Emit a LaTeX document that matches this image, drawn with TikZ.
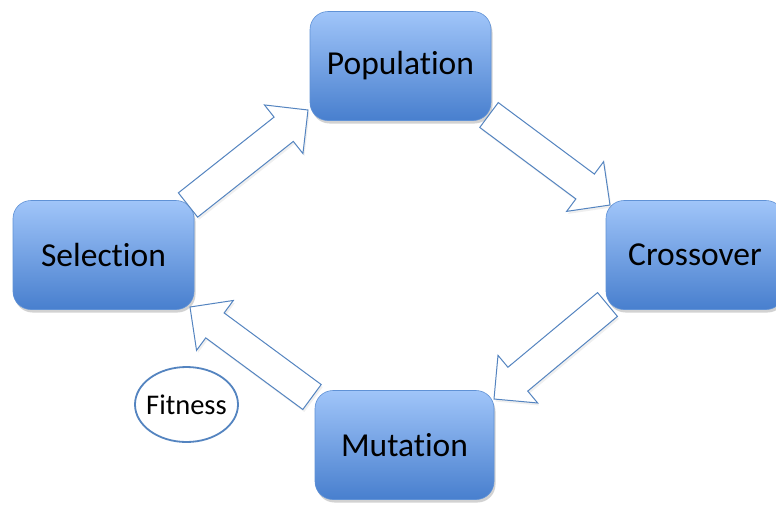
\documentclass[tikz,border=0pt]{standalone}
\usepackage{fontspec}
\setmainfont[Ligatures=NoCommon]{Carlito}
\usetikzlibrary{calc,shadows,shapes.geometric}
\definecolor{boxtop}{RGB}{160,197,249}
\definecolor{boxbot}{RGB}{72,127,206}
\definecolor{boxline}{RGB}{96,146,214}
\definecolor{arrline}{RGB}{84,132,192}
\newcommand\blkarrow[2]{%
  \coordinate (#1-#2-base) at ($(#2)!31pt!(#1)$);
  \draw[blockarrow] ($(#1)!15.5pt!90:(#2)$) -- ($(#1-#2-base)!15.5pt!90:(#2)$)
    -- ($(#1-#2-base)!31pt!90:(#2)$) -- (#2)
    -- ($(#1-#2-base)!31pt!-90:(#2)$) -- ($(#1-#2-base)!15.5pt!-90:(#2)$)
    -- ($(#1)!15.5pt!-90:(#2)$) -- cycle;}
\tikzset{
  stage/.style={rectangle, rounded corners=18pt, top color=boxtop, bottom color=boxbot,
    draw=boxline, line width=0.6pt, inner sep=0pt, minimum height=109pt,
    font=\fontsize{33.5}{38}\selectfont, text=black,
    drop shadow={opacity=0.35, shadow xshift=1.5pt, shadow yshift=-3pt}},
  blockarrow/.style={draw=arrline, fill=white, line width=1pt, line join=miter,
    drop shadow={opacity=0.12, shadow xshift=1.5pt, shadow yshift=-2.5pt}},
  fitstyle/.style={ellipse, draw=arrline, line width=1.8pt, fill=white, inner sep=-9pt,
    minimum width=103pt, minimum height=75pt, font=\fontsize{28.5}{32}\selectfont}
}
\begin{document}
\begin{tikzpicture}[x=1pt,y=-1pt]
\clip (0,0) rectangle (776,504);
\fill[white] (0,0) rectangle (776,504);
\node[stage, minimum width=181pt] (pop) at (400.5,66) {Population};
\node[stage, minimum width=181pt] (sel) at (103.5,255) {Selection};
\node[stage, minimum width=178pt] (cro) at (695,255) {Crossover};
\node[stage, minimum width=179pt] (mut) at (404.5,445) {Mutation};
\node[fitstyle] (fit) at (186.5,404.5) {Fitness};
\coordinate (a1t) at (188,205);   \coordinate (a1h) at (308,110);
\coordinate (a2t) at (489,115);   \coordinate (a2h) at (610,205);
\coordinate (a3t) at (607.5,304.5); \coordinate (a3h) at (494,399);
\coordinate (a4t) at (312,397);   \coordinate (a4h) at (190,307);
\blkarrow{a1t}{a1h}
\blkarrow{a2t}{a2h}
\blkarrow{a3t}{a3h}
\blkarrow{a4t}{a4h}
\end{tikzpicture}
\end{document}
